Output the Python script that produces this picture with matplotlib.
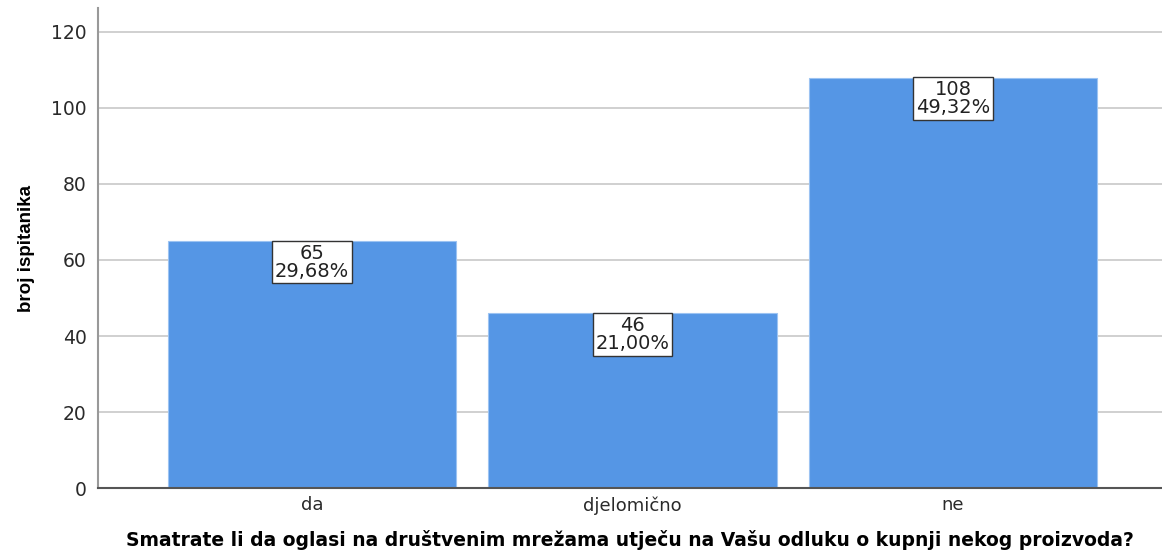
import matplotlib
matplotlib.use("Agg")
import matplotlib.pyplot as plt

# ── Data ───────────────────────────────────────────────────────────────────
categories = ["da", "djelomično", "ne"]
counts     = [65, 46, 108]
percents   = ["29,68%", "21,00%", "49,32%"]

plt.rcParams["font.family"] = ["DejaVu Sans"]

fig = plt.figure(figsize=(11.62, 5.53), dpi=100)
ax = fig.add_axes([0.0843, 0.1175, 0.9157, 0.868])

x = range(len(categories))
ax.bar(x, counts, width=0.9, color="#5596E5", edgecolor="#9cc3f2",
       linewidth=0.8, zorder=2)

# value + percent label boxes hanging from bar tops
for xi, c, p in zip(x, counts, percents):
    ax.annotate(f"{c}\n{p}", xy=(xi, c), xytext=(0, -2),
                textcoords="offset points", ha="center", va="top",
                fontsize=14, linespacing=0.92, color="#222222", zorder=4,
                bbox=dict(boxstyle="square,pad=0.15", fc="white",
                          ec="#333333", lw=1))

ax.set_xlim(-0.668, 2.652)
ax.set_ylim(0, 126.3)
ax.set_yticks([0, 20, 40, 60, 80, 100, 120])
ax.set_xticks(list(x))
ax.set_xticklabels(categories)
ax.yaxis.grid(True, color="#c8c8c8", linewidth=1.2, zorder=0)
ax.set_axisbelow(True)

ax.tick_params(axis="y", length=0, labelsize=13.5, pad=8, labelcolor="#2a2a2a")
ax.tick_params(axis="x", length=0, labelsize=13, pad=6, labelcolor="#2a2a2a")

for s in ["top", "right"]:
    ax.spines[s].set_visible(False)
ax.spines["left"].set_color("#999999")
ax.spines["left"].set_linewidth(1.5)
ax.spines["bottom"].set_color("#555555")
ax.spines["bottom"].set_linewidth(1.5)

ax.set_ylabel("broj ispitanika", fontsize=13.5, fontweight="bold",
              family="Liberation Sans", labelpad=12)
ax.set_xlabel("Smatrate li da oglasi na društvenim mrežama utječu na Vašu "
              "odluku o kupnji nekog proizvoda?", fontsize=13.5,
              fontweight="bold", labelpad=11)

plt.savefig("out.png", dpi=100)
plt.close()
